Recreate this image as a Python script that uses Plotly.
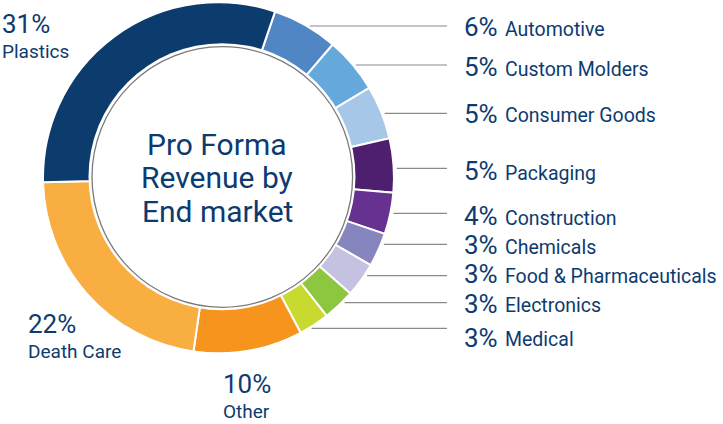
import plotly.graph_objects as go
import math

# ---- data ----
categories = ["Automotive", "Custom Molders", "Consumer Goods", "Packaging", "Construction",
              "Chemicals", "Food & Pharmaceuticals", "Electronics", "Medical", "Other",
              "Death Care", "Plastics"]
shares = [6.06, 5.17, 4.94, 4.97, 3.83, 3.11, 3.17, 2.97, 2.81, 10.03, 22.31, 30.64]
pct_labels = ["6%", "5%", "5%", "5%", "4%", "3%", "3%", "3%", "3%", "10%", "22%", "31%"]
colors = ["#5186c5", "#65a9dc", "#a7c7e9", "#4d1f6e", "#66318f", "#8785bd",
          "#c4c2e0", "#8dc63f", "#c8d92f", "#f7941e", "#f9ae42", "#0c3b6e"]
title_lines = ["Pro Forma", "Revenue by", "End market"]

W, H = 723, 424
NAVY = "#0d3b6f"

def px(x):
    return x / W

def py(y):
    return 1 - y / H

# ring geometry (pixels)
cx, cy, R = 218.5, 177.7, 175.5

fig = go.Figure(go.Pie(
    labels=categories, values=shares, sort=False, direction="clockwise",
    rotation=18.8, hole=0.72,
    marker=dict(colors=colors, line=dict(color="white", width=2)),
    textinfo="none", hoverinfo="label+percent", showlegend=False,
    domain=dict(x=[px(cx - R), px(cx + R)], y=[py(cy + R), py(cy - R)]),
))

shapes = []
# white inner disk (slightly offset hole) and gray ring
hx, hy, hr = 222.0, 176.7, 133.5
shapes.append(dict(type="circle", xref="paper", yref="paper", layer="above",
                   x0=px(hx - hr), x1=px(hx + hr), y0=py(hy + hr), y1=py(hy - hr),
                   fillcolor="white", line=dict(color="white", width=0)))
gx, gy, gr = 222.3, 177.0, 130.3
shapes.append(dict(type="circle", xref="paper", yref="paper", layer="above",
                   x0=px(gx - gr), x1=px(gx + gr), y0=py(gy + gr), y1=py(gy - gr),
                   fillcolor="rgba(0,0,0,0)", line=dict(color="#7a7a7a", width=1.3)))

annotations = []
# right-side labels with leader lines
leader_y = [26, 65, 113.3, 168.3, 213.3, 244.3, 275.7, 302.7, 328.3]
base_y = [36, 76, 122.7, 180, 225, 254.3, 283.3, 312.7, 346.7]
PCT_SIZE, NAME_SIZE = 26, 19.5
for i in range(9):
    ly = leader_y[i]
    dy = ly - cy
    xs = cx + math.sqrt(max(R * R - dy * dy, 0)) + 3
    shapes.append(dict(type="line", xref="paper", yref="paper", layer="above",
                       x0=px(xs), x1=px(447), y0=py(ly), y1=py(ly),
                       line=dict(color="#8a8a8a", width=1.2)))
    b = base_y[i]
    annotations.append(dict(x=px(462), y=py(b - 0.35 * PCT_SIZE), xref="paper", yref="paper",
                            text=pct_labels[i], showarrow=False, xanchor="left", yanchor="middle",
                            font=dict(family="Roboto", size=PCT_SIZE, color=NAVY)))
    annotations.append(dict(x=px(503), y=py(b - 0.35 * NAME_SIZE), xref="paper", yref="paper",
                            text=categories[i], showarrow=False, xanchor="left", yanchor="middle",
                            font=dict(family="Roboto", size=NAME_SIZE, color=NAVY)))

# left / bottom labels: (index, x, pct baseline, name baseline)
left_specs = [(11, 0, 33.3, 58.3), (10, 26, 333.3, 358.3), (9, 221, 393.3, 418.3)]
for idx, x, bp, bn in left_specs:
    annotations.append(dict(x=px(x), y=py(bp - 0.35 * PCT_SIZE), xref="paper", yref="paper",
                            text=pct_labels[idx], showarrow=False, xanchor="left", yanchor="middle",
                            font=dict(family="Roboto", size=PCT_SIZE, color=NAVY)))
    annotations.append(dict(x=px(x), y=py(bn - 0.35 * 19), xref="paper", yref="paper",
                            text=categories[idx], showarrow=False, xanchor="left", yanchor="middle",
                            font=dict(family="Roboto", size=19, color=NAVY)))

# centre title
TITLE_SIZE = 30
for j, line in enumerate(title_lines):
    b = 155 + 33.3 * j
    annotations.append(dict(x=px(217), y=py(b - 0.35 * TITLE_SIZE), xref="paper", yref="paper",
                            text=line, showarrow=False, xanchor="center", yanchor="middle",
                            font=dict(family="Roboto", size=TITLE_SIZE, color=NAVY)))

fig.update_layout(width=W, height=H, margin=dict(l=0, r=0, t=0, b=0),
                  paper_bgcolor="white", plot_bgcolor="white",
                  shapes=shapes, annotations=annotations)
fig.write_html("out.html", config={"displayModeBar": False},
               post_script="document.body.style.margin='0px';")
